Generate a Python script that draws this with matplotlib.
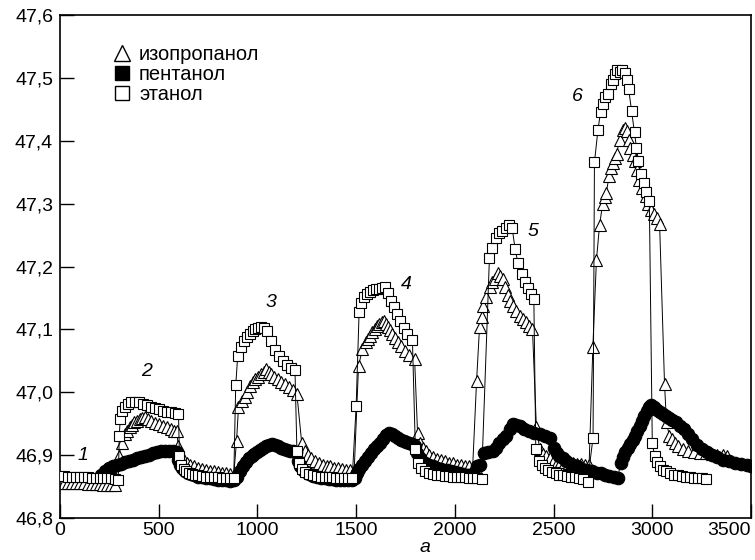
import matplotlib
matplotlib.use('Agg')
import matplotlib.pyplot as plt
from matplotlib.lines import Line2D

plt.rcParams['font.family'] = ['Liberation Sans', 'DejaVu Sans']

# этанол (open squares), by cycles
x_eth = ([0, 20, 40, 60, 80, 100, 120, 140, 160, 180, 200, 220, 240, 260, 280, 295]
         + [300, 305, 315, 330, 345, 360, 380, 400, 420, 440, 460, 480, 500, 520, 540, 560, 580, 600]
         + [605, 615, 628, 640, 655, 670, 685, 700, 720, 740, 760, 780, 800, 820, 840, 860, 880]
         + [890, 900, 915, 930, 945, 960, 975, 990, 1005, 1020, 1035, 1050, 1070, 1090, 1110, 1130, 1150, 1170, 1190]
         + [1200, 1210, 1225, 1240, 1260, 1280, 1300, 1320, 1340, 1360, 1380, 1400, 1420, 1440, 1460, 1480]
         + [1500, 1515, 1525, 1540, 1555, 1570, 1585, 1600, 1615, 1630, 1645, 1660, 1675, 1690, 1705, 1720, 1740, 1760, 1785]
         + [1800, 1815, 1830, 1850, 1870, 1890, 1910, 1930, 1950, 1970, 1990, 2010, 2030, 2050, 2070, 2090, 2110, 2135]
         + [2175, 2190, 2210, 2225, 2240, 2260, 2275, 2290, 2305, 2320, 2340, 2355, 2370, 2385, 2400]
         + [2410, 2425, 2440, 2455, 2470, 2490, 2510, 2530, 2550, 2570, 2590, 2610, 2630, 2650, 2672]
         + [2700, 2707, 2725, 2738, 2750, 2760, 2775, 2790, 2800, 2810, 2822, 2835, 2848, 2860, 2870, 2880,
            2895, 2910, 2920, 2930, 2942, 2956, 2970, 2985]
         + [3000, 3012, 3025, 3040, 3055, 3070, 3090, 3110, 3130, 3150, 3170, 3190, 3210, 3230, 3250, 3270])
y_eth = ([46.867, 46.867, 46.866, 46.866, 46.866, 46.865, 46.865, 46.865, 46.864, 46.864, 46.864, 46.863, 46.863, 46.863, 46.862, 46.860]
         + [46.931, 46.957, 46.970, 46.977, 46.981, 46.984, 46.985, 46.984, 46.982, 46.979, 46.977, 46.975, 46.973, 46.971, 46.969, 46.968, 46.967, 46.966]
         + [46.898, 46.884, 46.878, 46.874, 46.872, 46.870, 46.869, 46.868, 46.867, 46.866, 46.866, 46.865, 46.865, 46.864, 46.864, 46.864, 46.863]
         + [47.011, 47.058, 47.072, 47.081, 47.088, 47.093, 47.097, 47.100, 47.102, 47.104, 47.102, 47.097, 47.082, 47.068, 47.058, 47.050, 47.044, 47.039, 47.036]
         + [46.906, 46.888, 46.878, 46.873, 46.870, 46.868, 46.867, 46.866, 46.866, 46.865, 46.865, 46.864, 46.864, 46.864, 46.863, 46.863]
         + [46.978, 47.128, 47.142, 47.152, 47.157, 47.160, 47.162, 47.164, 47.165, 47.166, 47.167, 47.158, 47.146, 47.135, 47.124, 47.114, 47.103, 47.093, 47.083]
         + [46.909, 46.888, 46.880, 46.875, 46.872, 46.870, 46.869, 46.868, 46.867, 46.867, 46.866, 46.866, 46.865, 46.865, 46.864, 46.864, 46.863, 46.862]
         + [47.213, 47.229, 47.245, 47.253, 47.256, 47.262, 47.266, 47.262, 47.228, 47.205, 47.188, 47.176, 47.166, 47.157, 47.149]
         + [46.909, 46.890, 46.884, 46.879, 46.876, 46.873, 46.871, 46.869, 46.868, 46.867, 46.866, 46.865, 46.864, 46.862, 46.858]
         + [46.928, 47.366, 47.418, 47.446, 47.458, 47.470, 47.474, 47.490, 47.497, 47.507, 47.513, 47.510, 47.512, 47.508, 47.496, 47.483,
            47.448, 47.414, 47.389, 47.368, 47.347, 47.333, 47.318, 47.304]
         + [46.920, 46.898, 46.889, 46.882, 46.877, 46.874, 46.871, 46.869, 46.868, 46.867, 46.866, 46.865, 46.864, 46.864, 46.863, 46.862])

# изопропанол (open triangles)
x_iso = ([0, 20, 40, 60, 80, 100, 120, 140, 160, 180, 200, 220, 240, 260, 280]
         + [297, 313, 327, 340, 352, 365, 377, 390, 403, 415, 428, 445, 463, 480, 500, 520, 540, 560, 575, 590]
         + [600, 615, 630, 645, 660, 680, 700, 720, 740, 760, 780, 800, 820, 840, 860, 880]
         + [894, 904, 920, 935, 948, 960, 975, 990, 1005, 1020, 1033, 1045, 1058, 1071, 1086, 1102, 1120, 1140, 1160, 1180, 1200]
         + [1224, 1240, 1255, 1270, 1290, 1310, 1330, 1350, 1370, 1390, 1410, 1430, 1450, 1470, 1490]
         + [1512, 1532, 1548, 1558, 1568, 1580, 1593, 1605, 1618, 1630, 1640, 1650, 1660, 1672, 1684, 1697, 1710, 1727, 1745, 1770, 1796]
         + [1811, 1825, 1840, 1855, 1870, 1890, 1910, 1930, 1950, 1970, 1990, 2010, 2030, 2050, 2070, 2090]
         + [2110, 2125, 2135, 2145, 2160, 2176, 2190, 2203, 2216, 2229, 2242, 2255, 2267, 2280, 2292, 2310, 2328, 2345, 2362, 2378, 2393]
         + [2413, 2430, 2445, 2460, 2480, 2500, 2520, 2540, 2560, 2580, 2600, 2620, 2640, 2660, 2680]
         + [2699, 2717, 2733, 2748, 2758, 2767, 2781, 2790, 2799, 2810, 2819, 2834, 2850, 2860, 2870, 2880, 2889, 2900, 2911,
            2923, 2935, 2950, 2966, 2980, 2995, 3010, 3022, 3037]
         + [3062, 3072, 3087, 3100, 3113, 3130, 3154, 3180, 3210, 3240, 3270, 3300, 3330, 3360, 3376])
y_iso = ([46.856, 46.856, 46.856, 46.855, 46.855, 46.855, 46.855, 46.854, 46.854, 46.854, 46.854, 46.853, 46.853, 46.853, 46.853]
         + [46.898, 46.920, 46.933, 46.939, 46.944, 46.948, 46.952, 46.955, 46.958, 46.959, 46.960, 46.957, 46.954, 46.951, 46.949, 46.946, 46.944, 46.941, 46.939, 46.938]
         + [46.914, 46.898, 46.892, 46.888, 46.885, 46.882, 46.880, 46.878, 46.876, 46.875, 46.874, 46.873, 46.872, 46.871, 46.870, 46.869]
         + [46.922, 46.976, 46.986, 46.992, 47.001, 47.010, 47.016, 47.021, 47.025, 47.029, 47.033, 47.037, 47.033, 47.029, 47.025, 47.021, 47.017, 47.013, 47.008, 47.003, 46.997]
         + [46.920, 46.906, 46.900, 46.895, 46.891, 46.888, 46.885, 46.883, 46.882, 46.880, 46.879, 46.878, 46.877, 46.876, 46.875]
         + [47.042, 47.069, 47.080, 47.085, 47.090, 47.096, 47.101, 47.105, 47.109, 47.112, 47.114, 47.109, 47.104, 47.099, 47.093, 47.086, 47.080, 47.073, 47.066, 47.059, 47.053]
         + [46.936, 46.920, 46.912, 46.906, 46.901, 46.897, 46.894, 46.892, 46.890, 46.888, 46.887, 46.885, 46.884, 46.883, 46.882, 46.880]
         + [47.018, 47.104, 47.120, 47.138, 47.152, 47.168, 47.175, 47.181, 47.189, 47.185, 47.181, 47.168, 47.154, 47.146, 47.138, 47.130, 47.122, 47.117, 47.112, 47.106, 47.101]
         + [46.944, 46.910, 46.902, 46.898, 46.895, 46.893, 46.891, 46.890, 46.889, 46.888, 46.887, 46.886, 46.886, 46.885, 46.885]
         + [47.072, 47.210, 47.266, 47.299, 47.310, 47.317, 47.344, 47.356, 47.365, 47.373, 47.379, 47.402, 47.418, 47.420, 47.416, 47.402, 47.389, 47.378, 47.368,
            47.353, 47.338, 47.325, 47.312, 47.300, 47.290, 47.283, 47.277, 47.268]
         + [47.013, 46.952, 46.930, 46.925, 46.920, 46.914, 46.909, 46.906, 46.905, 46.904, 46.903, 46.902, 46.901, 46.900, 46.899])

# пентанол (filled circles)
x_pen = ([210, 230, 250, 270, 290, 310, 330, 350, 370, 390, 410, 430, 450, 470, 490, 510, 530, 550, 570, 590]
         + [600, 610, 620, 635, 650, 665, 680, 700, 720, 740, 760, 780, 800, 820, 840, 860, 880]
         + [895, 910, 925, 940, 955, 970, 985, 1000, 1015, 1030, 1045, 1060, 1075, 1090, 1105, 1120, 1135, 1150, 1165, 1180, 1195]
         + [1205, 1215, 1230, 1245, 1260, 1280, 1300, 1320, 1340, 1360, 1380, 1400, 1420, 1440, 1460, 1480, 1495]
         + [1502, 1515, 1530, 1545, 1560, 1575, 1590, 1605, 1620, 1635, 1650, 1665, 1680, 1695, 1710, 1725, 1740, 1755, 1770, 1785, 1796]
         + [1810, 1821, 1835, 1850, 1871, 1890, 1910, 1930, 1958, 1980, 2000, 2020, 2040, 2060, 2074, 2090]
         + [2110, 2125, 2150, 2170, 2191, 2210, 2226, 2245, 2261, 2277, 2292, 2310, 2328, 2350, 2378, 2400, 2429, 2455, 2480]
         + [2500, 2515, 2530, 2546, 2565, 2590, 2617, 2645, 2670, 2695, 2718, 2740, 2760, 2783, 2805, 2825]
         + [2840, 2852, 2864, 2876, 2888, 2900, 2912, 2924, 2936, 2948, 2960, 2972, 2984, 2996]
         + [3010, 3025, 3040, 3055, 3070, 3085, 3100, 3120, 3140, 3160, 3180, 3200, 3225, 3250, 3275, 3300, 3330, 3360,
            3390, 3420, 3450, 3480, 3500])
y_pen = ([46.868, 46.874, 46.879, 46.882, 46.884, 46.886, 46.889, 46.891, 46.893, 46.895, 46.897, 46.899, 46.901, 46.903, 46.905, 46.906, 46.907, 46.907, 46.906, 46.905]
         + [46.892, 46.884, 46.879, 46.875, 46.872, 46.870, 46.868, 46.866, 46.865, 46.864, 46.863, 46.862, 46.861, 46.860, 46.860, 46.859, 46.860]
         + [46.866, 46.874, 46.882, 46.889, 46.895, 46.899, 46.902, 46.905, 46.908, 46.911, 46.914, 46.916, 46.917, 46.916, 46.914, 46.912, 46.910, 46.908, 46.907, 46.906, 46.905]
         + [46.890, 46.882, 46.877, 46.873, 46.870, 46.867, 46.866, 46.864, 46.863, 46.862, 46.862, 46.861, 46.861, 46.860, 46.860, 46.861, 46.864]
         + [46.872, 46.878, 46.885, 46.891, 46.897, 46.903, 46.909, 46.914, 46.920, 46.926, 46.932, 46.935, 46.933, 46.930, 46.927, 46.924, 46.922, 46.921, 46.920, 46.917, 46.914]
         + [46.903, 46.896, 46.890, 46.887, 46.885, 46.882, 46.880, 46.878, 46.877, 46.875, 46.873, 46.871, 46.870, 46.869, 46.869, 46.870]
         + [46.882, 46.885, 46.904, 46.905, 46.906, 46.912, 46.920, 46.925, 46.930, 46.942, 46.950, 46.948, 46.946, 46.942, 46.938, 46.936, 46.933, 46.930, 46.928]
         + [46.912, 46.904, 46.899, 46.896, 46.891, 46.886, 46.882, 46.878, 46.876, 46.874, 46.872, 46.871, 46.869, 46.867, 46.866, 46.864]
         + [46.888, 46.897, 46.905, 46.912, 46.918, 46.924, 46.931, 46.938, 46.946, 46.955, 46.963, 46.970, 46.976, 46.980]
         + [46.976, 46.972, 46.969, 46.966, 46.963, 46.959, 46.956, 46.952, 46.947, 46.941, 46.933, 46.925, 46.916, 46.910, 46.905, 46.901, 46.897, 46.893,
            46.890, 46.888, 46.886, 46.884, 46.883])

x_ticks = [0, 500, 1000, 1500, 2000, 2500, 3000, 3500]
x_tick_labels = ['0', '500', '1000', '1500', '2000', '2500', '3000', '3500']
y_ticks = [46.8, 46.9, 47.0, 47.1, 47.2, 47.3, 47.4, 47.5, 47.6]
y_tick_labels = ['46,8', '46,9', '47,0', '47,1', '47,2', '47,3', '47,4', '47,5', '47,6']

curve_names = ['1', '2', '3', '4', '5', '6']
curve_x = [114, 438, 1071, 1755, 2394, 2622]
curve_y = [46.90, 47.033, 47.143, 47.172, 47.256, 47.471]

fig = plt.figure(figsize=(7.55, 5.6), dpi=100)
ax = fig.add_axes([0.0795, 0.075, 0.9152, 0.898])

ax.plot(x_iso, y_iso, color='black', lw=0.7, marker='^', ms=9, mfc='white', mec='black', mew=0.8, zorder=2)
ax.plot(x_pen, y_pen, color='black', lw=0.7, marker='o', ms=9, mfc='black', mec='black', mew=0.8, zorder=3)
ax.plot(x_eth, y_eth, color='black', lw=0.7, marker='s', ms=7.5, mfc='white', mec='black', mew=0.8, zorder=4)

for name, cx, cy in zip(curve_names, curve_x, curve_y):
    ax.text(cx, cy, name, style='italic', fontsize=14, ha='center', va='center', zorder=5)

ax.set_xlim(0, 3500)
ax.set_ylim(46.8, 47.6)
ax.set_xticks(x_ticks)
ax.set_xticklabels(x_tick_labels)
ax.set_yticks(y_ticks)
ax.set_yticklabels(y_tick_labels)
ax.get_xticklabels()[-1].set_ha('right')
ax.tick_params(direction='in', length=10, width=1, labelsize=14, top=False, right=False)
ax.tick_params(axis='x', pad=3)
ax.tick_params(axis='y', pad=5)
for s in ax.spines.values():
    s.set_linewidth(1.2)

ax.set_xlabel('a', style='italic', fontsize=14, x=0.528, labelpad=0)

handles = [
    Line2D([], [], ls='none', marker='^', ms=12, mfc='white', mec='black', mew=1),
    Line2D([], [], ls='none', marker='s', ms=10.5, mfc='black', mec='black', mew=1),
    Line2D([], [], ls='none', marker='s', ms=10.5, mfc='white', mec='black', mew=1),
]
ax.legend(handles, ['изопропанол', 'пентанол', 'этанол'], loc='upper left',
          bbox_to_anchor=(0.075, 0.94), frameon=False, fontsize=14.5,
          handlelength=1.0, handletextpad=0.35, labelspacing=0.05,
          borderpad=0, borderaxespad=0)

fig.savefig('out.png', dpi=100)
